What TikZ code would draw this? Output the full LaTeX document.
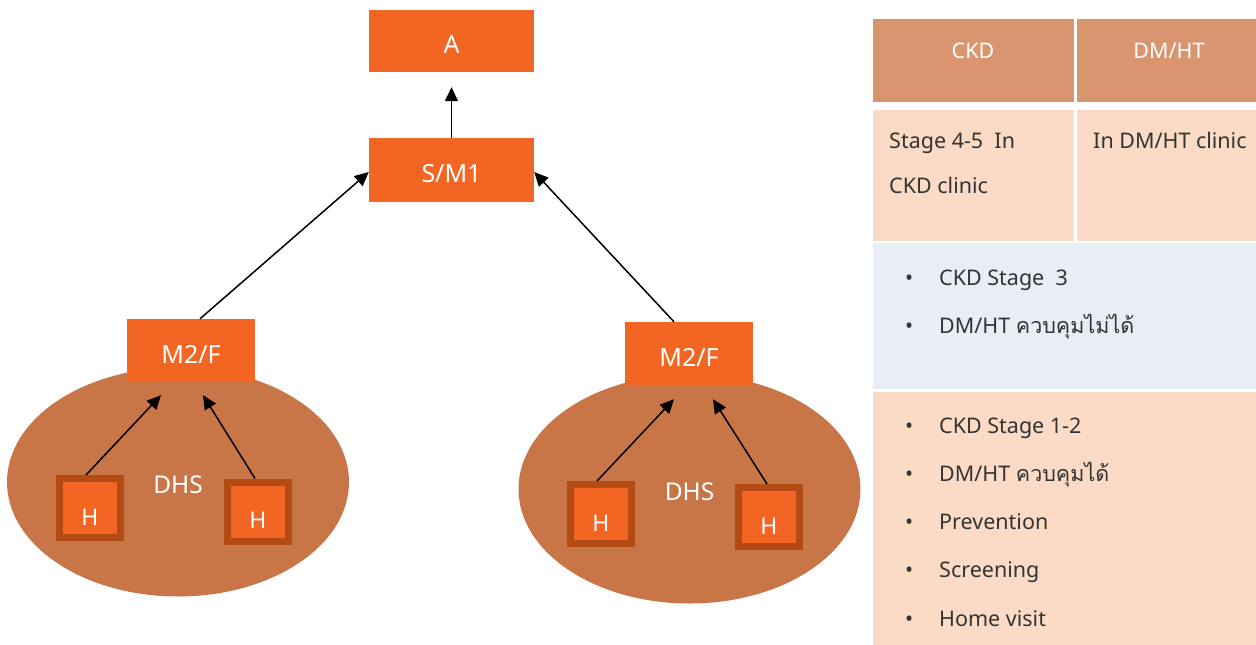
\documentclass[tikz,border=0pt]{standalone}
\usepackage{fontspec}
\setmainfont{Noto Sans}
\newfontfamily\thaifont[Script=Thai]{Loma}
\usetikzlibrary{arrows.meta,shapes.geometric}
\definecolor{orng}{RGB}{243,101,35}
\definecolor{hdark}{RGB}{180,75,20}
\definecolor{ellcol}{RGB}{200,118,72}
\definecolor{hdr}{RGB}{216,149,112}
\definecolor{peach}{RGB}{251,219,197}
\definecolor{bluegr}{RGB}{233,237,245}
\definecolor{txtc}{RGB}{51,51,51}
\begin{document}
\begin{tikzpicture}[x=1pt,y=-1pt,
  obox/.style={fill=orng, draw=none, text=white, font=\fontsize{25}{29}\selectfont,
    inner sep=0pt, text height=25pt, text depth=0pt, minimum width=128pt, minimum height=63pt},
  topbox/.style={obox, minimum width=165pt},
  hbox/.style={fill=orng, draw=hdark, line width=7pt, text=white, font=\fontsize{23}{27}\selectfont,
    inner sep=0pt, text height=34pt, text depth=0pt, minimum width=61pt, minimum height=59pt},
  dhs/.style={ellipse, fill=ellcol, draw=none, text=white, font=\fontsize{24.5}{28}\selectfont,
    inner sep=0pt, text height=22pt, text depth=0pt, minimum width=342pt, minimum height=229pt},
  conn/.style={-{Triangle[length=14pt,width=13pt]}, line width=1.5pt, black},
  ttext/.style={text=txtc, font=\fontsize{21.5}{26}\selectfont, inner sep=0pt, anchor=base west},
  htext/.style={text=white, font=\fontsize{21.5}{26}\selectfont, inner sep=0pt, anchor=base}
]
\useasboundingbox (0,0) rectangle (1256,645);

% ellipses (DHS)
\node[dhs] (E1) at (178,482) {DHS};
\node[dhs] (E2) at (689.5,489) {DHS};

% boxes
\node[topbox, minimum height=62pt] (A) at (451.5,41) {A};
\node[topbox, minimum height=64pt] (S) at (451.5,170) {S/M1};
\node[obox] (L) at (191,350.5) {M2/F};
\node[obox] (R) at (689,353.5) {M2/F};

\node[hbox] (LH1) at (90,508) {H};
\node[hbox] (LH2) at (258,511.5) {H};
\node[hbox] (RH1) at (601,514) {H};
\node[hbox] (RH2) at (769,517) {H};

% connectors
\draw[conn] (S.north) -- ([yshift=-15pt]A.south);
\draw[conn] ([xshift=9pt]L.north) -- ([yshift=-2pt]S.west);
\draw[conn] ([xshift=-15pt]R.north) -- ([yshift=-2pt]S.east);
\draw[conn] ([xshift=-4pt]LH1.north) -- ([xshift=-30pt,yshift=-13pt]L.south);
\draw[conn] ([xshift=-3pt]LH2.north) -- ([xshift=12pt,yshift=-13pt]L.south);
\draw[conn] ([xshift=-4pt]RH1.north) -- ([xshift=-15pt,yshift=-14pt]R.south);
\draw[conn] ([xshift=-2pt]RH2.north) -- ([xshift=24pt,yshift=-14pt]R.south);

% table
\fill[hdr] (873,19) rectangle (1074,102);
\fill[hdr] (1077,19) rectangle (1256,102);
\fill[peach] (873,110) rectangle (1074,241);
\fill[peach] (1077,110) rectangle (1256,241);
\fill[bluegr] (873,243) rectangle (1256,389);
\fill[peach] (873,392) rectangle (1256,645);

\node[htext] (h1) at (973,58) {CKD};
\node[htext] (h2) at (1169,58) {DM/HT};

\node[ttext] (c1) at (889,148) {Stage 4-5\ \ In};
\node[ttext] (c2) at (889,193) {CKD clinic};
\node[ttext] (c3) at (1093,148) {In DM/HT clinic};

\node[ttext] (b1) at (905,285) {\makebox[34pt][l]{•}CKD Stage\ \ 3};
\node[ttext] (b2) at (905,333) {\makebox[34pt][l]{•}DM/HT {\thaifont ควบคุมไม่ได้}};

\node[ttext] (d1) at (905,433) {\makebox[34pt][l]{•}CKD Stage 1-2};
\node[ttext] (d2) at (905,481) {\makebox[34pt][l]{•}DM/HT {\thaifont ควบคุมได้}};
\node[ttext] (d3) at (905,529) {\makebox[34pt][l]{•}Prevention};
\node[ttext] (d4) at (905,577) {\makebox[34pt][l]{•}Screening};
\node[ttext] (d5) at (905,626) {\makebox[34pt][l]{•}Home visit};
\end{tikzpicture}
\end{document}
